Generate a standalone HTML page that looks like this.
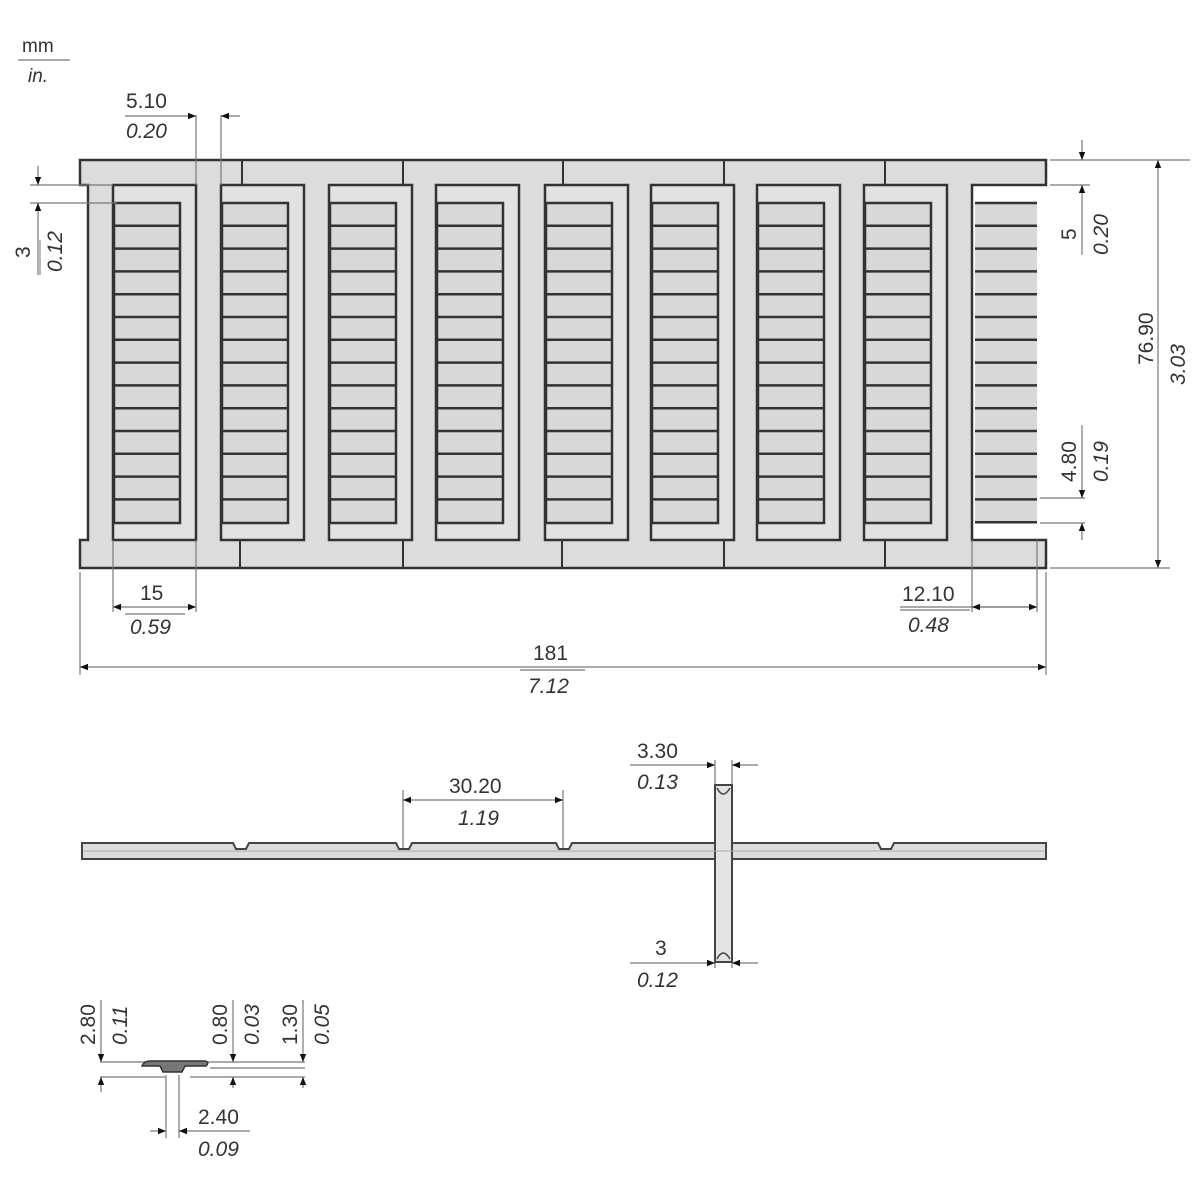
<!DOCTYPE html>
<html><head><meta charset="utf-8"><style>
html,body{margin:0;padding:0;background:#fff}
svg{display:block}
text{font-family:"Liberation Sans",sans-serif;font-size:21px;fill:#333}
.i{font-style:italic}
</style></head><body>
<svg id="s" width="1200" height="1200" viewBox="0 0 1200 1200" xmlns="http://www.w3.org/2000/svg">
<defs>
<marker id="a" viewBox="0 0 10 10" refX="10" refY="5" markerWidth="14" markerHeight="8" orient="auto-start-reverse" markerUnits="userSpaceOnUse"><path d="M0,1 L10,5 L0,9 z" fill="#111"/></marker>
</defs>
<g id="plate" stroke="#333" stroke-width="2.5" fill="#dcdcdc">
<path d="M80,160 H1046 V185 H972 V540 H1046 V568 H80 V540 H88 V185 H80 Z"/>
</g>
<g id="cards"></g>
<g stroke="#333" stroke-width="2">
<line x1="242" y1="160" x2="242" y2="185"/><line x1="403" y1="160" x2="403" y2="185"/><line x1="563" y1="160" x2="563" y2="185"/><line x1="724" y1="160" x2="724" y2="185"/><line x1="885" y1="160" x2="885" y2="185"/>
<line x1="240" y1="540" x2="240" y2="568"/><line x1="403" y1="540" x2="403" y2="568"/><line x1="562" y1="540" x2="562" y2="568"/><line x1="724" y1="540" x2="724" y2="568"/><line x1="885" y1="540" x2="885" y2="568"/>
</g>
<g stroke="#777" stroke-width="1.2" fill="none">
<line x1="18" y1="60" x2="70" y2="60"/>
<line x1="196" y1="115" x2="196" y2="185"/><line x1="221" y1="115" x2="221" y2="185"/>
<line x1="125" y1="116" x2="196" y2="116" marker-end="url(#a)"/><line x1="221" y1="116" x2="240" y2="116" marker-start="url(#a)"/>
<line x1="30" y1="185" x2="113" y2="185"/><line x1="30" y1="203" x2="117" y2="203"/>
<line x1="38" y1="166" x2="38" y2="185" marker-end="url(#a)"/><line x1="38" y1="203" x2="38" y2="275" marker-start="url(#a)"/>
<line x1="1050" y1="160" x2="1190" y2="160"/><line x1="1050" y1="185" x2="1090" y2="185"/>
<line x1="1082" y1="140" x2="1082" y2="160" marker-end="url(#a)"/><line x1="1082" y1="185" x2="1082" y2="255" marker-start="url(#a)"/>
<line x1="1158" y1="160" x2="1158" y2="568" marker-start="url(#a)" marker-end="url(#a)"/>
<line x1="1050" y1="568" x2="1170" y2="568"/>
<line x1="1040" y1="498" x2="1085" y2="498"/><line x1="1040" y1="523" x2="1085" y2="523"/>
<line x1="1082" y1="425" x2="1082" y2="498" marker-end="url(#a)"/><line x1="1082" y1="523" x2="1082" y2="540" marker-start="url(#a)"/>
<line x1="113" y1="540" x2="113" y2="612"/><line x1="196" y1="540" x2="196" y2="612"/>
<line x1="113" y1="607" x2="196" y2="607" marker-start="url(#a)" marker-end="url(#a)"/>
<line x1="972" y1="540" x2="972" y2="612"/><line x1="1037" y1="540" x2="1037" y2="612"/>
<line x1="900" y1="607" x2="1037" y2="607"/><line x1="972" y1="607" x2="1037" y2="607" marker-start="url(#a)" marker-end="url(#a)"/>
<line x1="80" y1="572" x2="80" y2="675"/><line x1="1046" y1="572" x2="1046" y2="675"/>
<line x1="80" y1="667" x2="1046" y2="667" marker-start="url(#a)" marker-end="url(#a)"/>
<line x1="125" y1="614" x2="185" y2="614"/><line x1="900" y1="610" x2="970" y2="610"/><line x1="520" y1="670" x2="585" y2="670"/>
<line x1="403" y1="790" x2="403" y2="852"/><line x1="563" y1="790" x2="563" y2="852"/>
<line x1="403" y1="800" x2="563" y2="800" marker-start="url(#a)" marker-end="url(#a)"/>
<line x1="630" y1="765" x2="715" y2="765" marker-end="url(#a)"/><line x1="732" y1="765" x2="758" y2="765" marker-start="url(#a)"/>
<line x1="630" y1="963" x2="715" y2="963" marker-end="url(#a)"/><line x1="732" y1="963" x2="758" y2="963" marker-start="url(#a)"/>
<line x1="715" y1="760" x2="715" y2="968"/><line x1="732" y1="760" x2="732" y2="968"/>
<line x1="100" y1="1062" x2="305" y2="1062"/><line x1="100" y1="1077" x2="165" y2="1077"/><line x1="210" y1="1068" x2="305" y2="1068"/><line x1="190" y1="1077" x2="305" y2="1077"/>
<line x1="101" y1="1045" x2="101" y2="1062" marker-end="url(#a)"/><line x1="101" y1="1077" x2="101" y2="1092" marker-start="url(#a)"/>
<line x1="233" y1="1045" x2="233" y2="1062" marker-end="url(#a)"/><line x1="233" y1="1077" x2="233" y2="1088" marker-start="url(#a)"/>
<line x1="303" y1="1045" x2="303" y2="1062" marker-end="url(#a)"/><line x1="303" y1="1077" x2="303" y2="1088" marker-start="url(#a)"/>
<line x1="166" y1="1075" x2="166" y2="1138"/><line x1="179" y1="1075" x2="179" y2="1138"/>
<line x1="150" y1="1131" x2="166" y2="1131" marker-end="url(#a)"/><line x1="179" y1="1131" x2="250" y2="1131" marker-start="url(#a)"/>
<line x1="101" y1="1000" x2="101" y2="1045"/><line x1="233" y1="1000" x2="233" y2="1045"/><line x1="303" y1="1000" x2="303" y2="1045"/>
</g>
<g stroke="#444" stroke-width="2" fill="#dcdcdc">
<path d="M82,843 H233 L236,849 H246 L249,843 H396 L399,849 H409 L412,843 H556 L559,849 H569 L572,843 H878 L881,849 H891 L894,843 H1046 V859 H82 Z"/>
<rect x="715" y="785" width="17" height="177" fill="#e4e4e4"/>
<line x1="715" y1="851" x2="732" y2="851" stroke-width="1"/>
<path d="M717,788 Q723,800 730,788 M717,959 Q723,947 730,959" fill="none" stroke-width="1.5"/>
</g>
<line x1="84" y1="851" x2="1044" y2="851" stroke="#aaa" stroke-width="1"/>
<g stroke="#333" fill="#777">
<path d="M142,1066 Q144,1061 150,1061 H205 Q210,1062 206,1066 H185 L182,1072 H163 L160,1066 Z" stroke-width="1.5"/>
</g>
<text x="22" y="52" style="font-size:19px">mm</text>
<text x="28" y="82" class="i" style="font-size:19px">in.</text>
<text x="126" y="108">5.10</text><text x="126" y="138" class="i">0.20</text>
<text transform="translate(30,258) rotate(-90)">3</text>
<text transform="translate(62,272) rotate(-90)" class="i">0.12</text>
<line x1="40" y1="240" x2="40" y2="275" stroke="#777"/>
<text transform="translate(1076,240) rotate(-90)">5</text>
<text transform="translate(1108,255) rotate(-90)" class="i">0.20</text>
<text transform="translate(1153,365) rotate(-90)">76.90</text>
<text transform="translate(1185,385) rotate(-90)" class="i">3.03</text>
<text transform="translate(1076,482) rotate(-90)">4.80</text>
<text transform="translate(1108,482) rotate(-90)" class="i">0.19</text>
<text x="140" y="600">15</text><text x="130" y="634" class="i">0.59</text>
<text x="902" y="601">12.10</text><text x="908" y="632" class="i">0.48</text>
<text x="533" y="660">181</text><text x="528" y="693" class="i">7.12</text>
<text x="449" y="793">30.20</text><text x="458" y="825" class="i">1.19</text>
<text x="637" y="758">3.30</text><text x="637" y="789" class="i">0.13</text>
<text x="655" y="955">3</text><text x="637" y="987" class="i">0.12</text>
<text transform="translate(95,1045) rotate(-90)">2.80</text>
<text transform="translate(127,1045) rotate(-90)" class="i">0.11</text>
<text transform="translate(227,1045) rotate(-90)">0.80</text>
<text transform="translate(259,1045) rotate(-90)" class="i">0.03</text>
<text transform="translate(297,1045) rotate(-90)">1.30</text>
<text transform="translate(329,1045) rotate(-90)" class="i">0.05</text>
<text x="198" y="1124">2.40</text><text x="198" y="1156" class="i">0.09</text>
</svg>
<script>
var g=document.getElementById('cards'),ns='http://www.w3.org/2000/svg';
function el(t,a){var e=document.createElementNS(ns,t);for(var k in a)e.setAttribute(k,a[k]);g.appendChild(e);}
var xs=[113,221,329,436,545,651,757,864];
xs.forEach(function(x){
 el('rect',{x:x,y:185,width:83,height:355,fill:'#e2e2e2',stroke:'#333','stroke-width':2.5});
 el('rect',{x:x+1,y:203,width:66,height:320,fill:'#d8d8d8',stroke:'#333','stroke-width':2.5});
 for(var i=1;i<14;i++){var y=203+i*22.8;el('line',{x1:x+1,y1:y,x2:x+67,y2:y,stroke:'#333','stroke-width':2.5});}
});
el('rect',{x:975,y:203,width:62,height:320,fill:'#d8d8d8',stroke:'none'});
for(var i=0;i<15;i++){var y=203+i*22.8;el('line',{x1:975,y1:y,x2:1037,y2:y,stroke:'#333','stroke-width':2.5});}
</script>
</body></html>
